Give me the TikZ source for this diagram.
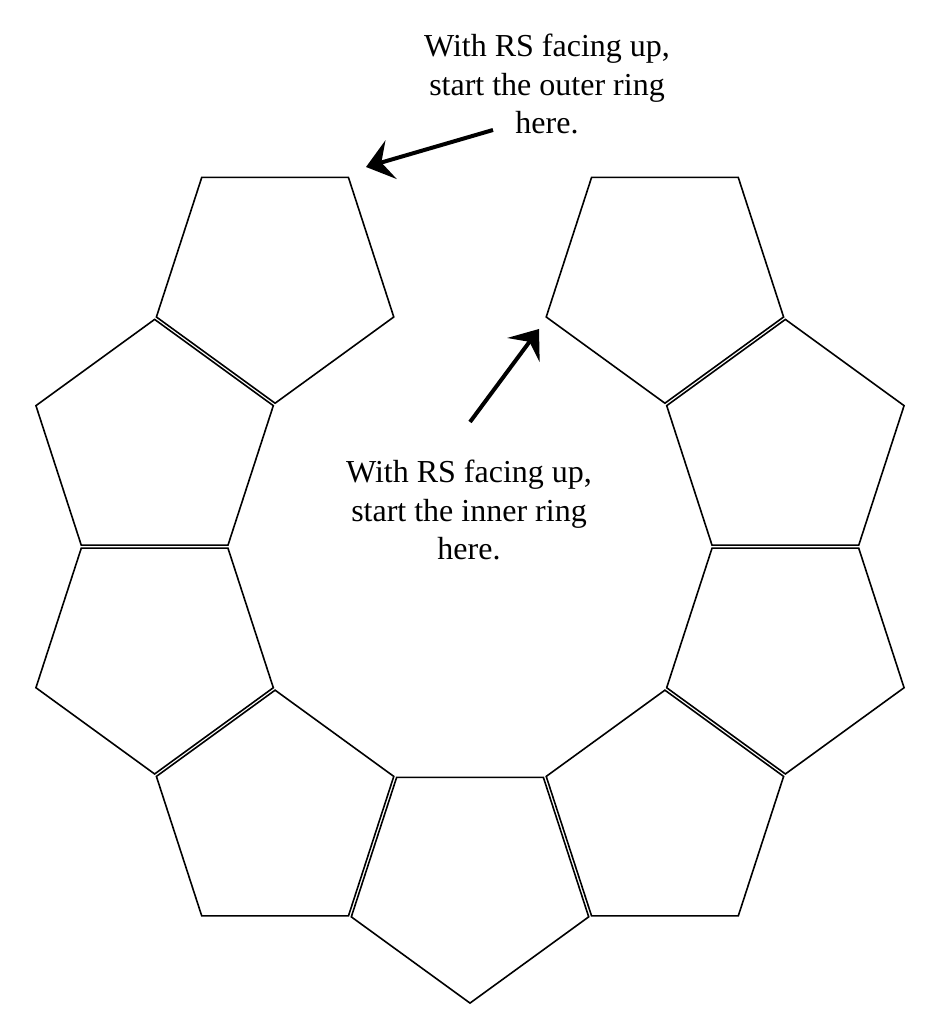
\documentclass[tikz,border=0pt]{standalone}
\usepackage{fontspec}
\setmainfont{Liberation Serif}
\usetikzlibrary{arrows.meta,calc,shapes.geometric}

\begin{document}
\begin{tikzpicture}[
        x=1pt, y=1pt,
        pieza/.style={regular polygon, regular polygon sides=5, draw=black, line width=1.6pt, inner sep=0pt, minimum size=249.6pt},
        flecha/.style={-{Stealth[length=26pt, width=40pt, inset=10pt]}, line width=4pt, draw=black},
        nota/.style={font=\fontsize{32}{38.5}\selectfont, align=center, inner sep=0pt}
    ]
        \useasboundingbox (0,0) rectangle (929,1024);
        \coordinate (centro) at (470, 477.3);

        % Anillo de pentagonos (falta el de arriba)
        \node[pieza, rotate=36]  (pieza1) at ($(centro)+(126:331.6)$) {};
        \node[pieza, rotate=72]  (pieza2) at ($(centro)+(162:331.6)$) {};
        \node[pieza, rotate=108] (pieza3) at ($(centro)+(198:331.6)$) {};
        \node[pieza, rotate=144] (pieza4) at ($(centro)+(234:331.6)$) {};
        \node[pieza, rotate=180] (pieza5) at ($(centro)+(270:331.6)$) {};
        \node[pieza, rotate=216] (pieza6) at ($(centro)+(306:331.6)$) {};
        \node[pieza, rotate=252] (pieza7) at ($(centro)+(342:331.6)$) {};
        \node[pieza, rotate=288] (pieza8) at ($(centro)+(18:331.6)$) {};
        \node[pieza, rotate=324] (pieza9) at ($(centro)+(54:331.6)$) {};

        % Notas
        \node[nota, anchor=north] (notaExterior) at (547, 990) {With RS facing up,\\start the outer ring\\here.};
        \node[nota, anchor=north] (notaInterior) at (469, 564) {With RS facing up,\\start the inner ring\\here.};

        % Flechas hacia el inicio de cada anillo
        \coordinate (colaExterior) at (493, 894);
        \coordinate (puntaExterior) at (366, 857);
        \draw[flecha] (colaExterior) -- (puntaExterior);

        \coordinate (colaInterior) at (470, 602);
        \coordinate (puntaInterior) at (539, 695);
        \draw[flecha] (colaInterior) -- (puntaInterior);
    \end{tikzpicture}
\end{document}
